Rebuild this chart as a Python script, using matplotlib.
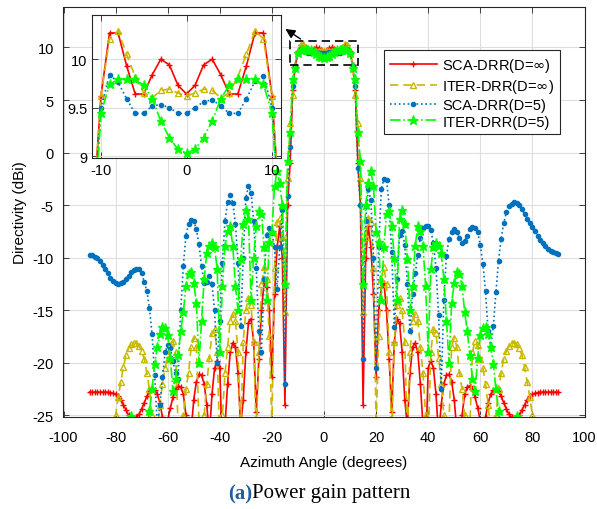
import numpy as np
import matplotlib
matplotlib.use("Agg")
from matplotlib import pyplot as plt
from matplotlib.patches import Rectangle

plt.rcParams["font.family"] = ["Liberation Sans", "DejaVu Sans"]
plt.rcParams["axes.unicode_minus"] = False

# Azimuth grid (1 degree steps)
angles = np.arange(-90, 91)

# SCA-DRR (D = inf)
sca_inf = [
    -22.8, -22.8, -22.8, -22.8, -22.8, -22.8, -22.8, -22.8, -22.85, -22.9,
    -23.0, -23.2, -23.5, -24.0, -24.5, -25.0, -25.3, -25.35, -25.2, -24.9,
    -24.4, -23.8, -23.2, -22.7, -22.5, -22.6, -23.0, -23.8, -25.2, -26.5,
    -25.5, -24.3, -23.3, -22.5, -22.2, -22.3, -23.0, -25.0, -29.0, -26.5,
    -23.5, -21.8, -21.1, -21.2, -22.0, -24.0, -27.0, -23.0, -20.5, -19.8,
    -20.5, -29.0, -26.0, -22.0, -19.0, -18.1, -18.5, -21.0, -26.0, -23.5,
    -19.0, -16.2, -15.8, -18.0, -24.7, -19.6, -15.0, -12.4, -12.8, -15.0,
    -21.4, -13.5, -9.0, -7.0, -10.0, -24.0, -5.0, -1.0, 6.0, 8.3,
    9.62, 10.27, 10.27, 9.93, 9.64, 9.64, 9.84, 10.0, 9.94, 9.73,
    9.64, 9.73, 9.94, 10.0, 9.84, 9.64, 9.64, 9.93, 10.27, 10.27,
    9.62, 8.3, 6.0, -1.0, -5.0, -24.0, -10.0, -7.0, -9.0, -13.5,
    -21.4, -15.0, -12.8, -12.4, -15.0, -19.6, -24.7, -18.0, -15.8, -16.2,
    -19.0, -23.5, -26.0, -21.0, -18.5, -18.1, -19.0, -22.0, -26.0, -29.0,
    -20.5, -19.8, -20.5, -23.0, -27.0, -24.0, -22.0, -21.2, -21.1, -21.8,
    -23.5, -26.5, -29.0, -25.0, -23.0, -22.3, -22.2, -22.5, -23.3, -24.3,
    -25.5, -26.5, -25.2, -23.8, -23.0, -22.6, -22.5, -22.7, -23.2, -23.8,
    -24.4, -24.9, -25.2, -25.35, -25.3, -25.0, -24.5, -24.0, -23.5, -23.2,
    -23.0, -22.9, -22.85, -22.8, -22.8, -22.8, -22.8, -22.8, -22.8, -22.8, -22.8,
]

# ITER-DRR (D = inf)
iter_inf = [
    -39.0, -39.0, -38.5, -38.0, -37.0, -36.0, -35.0, -33.0, -30.0, -27.0,
    -25.0, -23.3, -21.8, -20.4, -19.3, -18.6, -18.2, -18.1, -18.15, -18.4,
    -18.9, -19.6, -21.0, -22.5, -25.0, -28.0, -26.5, -24.0, -22.0, -20.5,
    -19.6, -18.3, -17.9, -19.0, -26.0, -28.0, -25.0, -22.5, -21.0, -18.5,
    -17.6, -18.5, -25.5, -28.0, -25.0, -22.0, -19.5, -17.2, -16.8, -19.0,
    -28.0, -25.0, -21.0, -18.5, -16.0, -15.4, -16.0, -19.0, -27.0, -18.0,
    -15.0, -13.8, -14.5, -18.0, -27.0, -19.0, -12.5, -10.9, -12.0, -17.5,
    -26.0, -11.0, -6.6, -6.2, -8.0, -15.2, -2.4, 2.8, 5.5, 8.3,
    9.62, 10.21, 10.29, 10.05, 9.82, 9.65, 9.6, 9.68, 9.69, 9.65,
    9.62, 9.65, 9.69, 9.68, 9.6, 9.65, 9.82, 10.05, 10.29, 10.21,
    9.62, 8.3, 5.5, 2.8, -2.4, -15.2, -8.0, -6.2, -6.6, -11.0,
    -26.0, -17.5, -12.0, -10.9, -12.5, -19.0, -27.0, -18.0, -14.5, -13.8,
    -15.0, -18.0, -27.0, -19.0, -16.0, -15.4, -16.0, -18.5, -21.0, -25.0,
    -28.0, -19.0, -16.8, -17.2, -19.5, -22.0, -25.0, -28.0, -25.5, -18.5,
    -17.6, -18.5, -21.0, -22.5, -25.0, -28.0, -26.0, -19.0, -17.9, -18.3,
    -19.6, -20.5, -22.0, -24.0, -26.5, -28.0, -25.0, -22.5, -21.0, -19.6,
    -18.9, -18.4, -18.15, -18.1, -18.2, -18.6, -19.3, -20.4, -21.8, -23.3,
    -25.0, -27.0, -30.0, -33.0, -35.0, -36.0, -37.0, -38.0, -38.5, -39.0, -39.0,
]

# SCA-DRR (D = 5)
sca_5 = [
    -9.7, -9.75, -9.9, -10.05, -10.3, -10.7, -11.1, -11.5, -11.9, -12.2,
    -12.4, -12.5, -12.45, -12.3, -12.0, -11.7, -11.4, -11.15, -11.05, -11.1,
    -11.5, -12.3, -13.2, -14.8, -17.3, -21.2, -26.0, -24.0, -21.4, -19.0,
    -18.3, -18.6, -19.8, -21.0, -21.5, -15.0, -10.8, -7.9, -6.8, -6.4,
    -6.5, -7.3, -8.7, -10.8, -12.4, -12.3, -11.7, -12.5, -15.0, -20.0,
    -16.0, -10.5, -6.5, -4.7, -4.0, -4.8, -6.8, -10.5, -16.5, -10.0,
    -4.3, -3.2, -3.8, -6.5, -11.0, -17.0, -19.0, -12.0, -7.8, -7.2,
    -7.6, -9.0, -13.0, -9.0, -5.5, -22.0, -4.1, 0.5, 6.3, 8.2,
    9.5, 9.84, 9.76, 9.59, 9.44, 9.44, 9.52, 9.53, 9.5, 9.44,
    9.44, 9.5, 9.56, 9.58, 9.52, 9.44, 9.44, 9.59, 9.77, 9.83,
    9.5, 8.2, 6.3, -1.5, -5.0, -19.6, -6.5, -3.5, -4.5, -10.0,
    -20.5, -9.0, -3.5, -2.5, -2.6, -5.0, -9.5, -16.6, -12.0, -7.8,
    -7.5, -8.8, -12.5, -17.0, -13.5, -11.5, -9.7, -8.1, -7.2, -7.0,
    -7.0, -7.4, -8.6, -11.0, -15.5, -22.5, -14.0, -9.8, -8.2, -7.6,
    -7.3, -7.6, -8.1, -8.6, -8.4, -7.9, -7.3, -7.1, -7.2, -7.6,
    -8.8, -10.6, -13.2, -17.0, -18.5, -16.5, -13.3, -10.3, -8.2, -6.7,
    -5.7, -5.1, -4.85, -4.75, -4.8, -5.0, -5.4, -5.8, -6.3, -6.7,
    -7.1, -7.5, -7.9, -8.3, -8.6, -8.9, -9.15, -9.35, -9.5, -9.6, -9.65,
]

# ITER-DRR (D = 5)
iter_5 = [
    -40.0, -40.0, -40.0, -40.0, -39.0, -39.0, -38.0, -38.0, -37.0, -36.0,
    -35.0, -34.0, -32.0, -30.0, -27.5, -25.8, -25.1, -25.8, -27.5, -29.5,
    -31.0, -29.0, -26.5, -24.6, -22.5, -20.1, -18.5, -17.3, -16.6, -16.7,
    -17.4, -19.5, -22.7, -21.5, -19.3, -17.0, -15.2, -12.7, -11.6, -11.4,
    -12.4, -14.3, -20.0, -16.0, -12.0, -9.6, -8.9, -8.6, -9.0, -11.1,
    -19.0, -12.7, -8.9, -7.5, -7.0, -8.9, -12.7, -15.0, -10.1, -6.8,
    -5.5, -6.3, -14.0, -10.0, -7.0, -5.6, -5.8, -9.0, -14.0, -8.5,
    -7.6, -3.2, -1.75, -2.9, -5.0, -12.5, -0.8, 2.0, 7.0, 8.0,
    9.44, 9.74, 9.79, 9.79, 9.79, 9.73, 9.59, 9.36, 9.19, 9.07,
    9.03, 9.07, 9.19, 9.36, 9.59, 9.73, 9.79, 9.79, 9.79, 9.74,
    9.44, 8.0, 7.0, 2.0, -0.8, -12.5, -5.0, -2.9, -1.75, -3.2,
    -7.6, -8.5, -14.0, -9.0, -5.8, -5.6, -7.0, -10.0, -14.0, -6.3,
    -5.5, -6.8, -10.1, -15.0, -12.7, -8.9, -7.0, -7.5, -8.9, -12.7,
    -19.0, -11.1, -9.0, -8.6, -8.9, -9.6, -12.0, -16.0, -20.0, -14.3,
    -12.4, -11.4, -11.6, -12.7, -15.2, -17.0, -19.3, -21.5, -22.7, -19.5,
    -17.4, -16.7, -16.6, -17.3, -18.5, -20.1, -22.5, -24.6, -26.5, -29.0,
    -31.0, -29.5, -27.5, -25.8, -25.1, -25.8, -27.5, -30.0, -32.0, -34.0,
    -35.0, -36.0, -37.0, -38.0, -38.0, -39.0, -39.0, -40.0, -40.0, -40.0, -40.0,
]

SERIES = [
    ("SCA-DRR(D=$\\infty$)", sca_inf, dict(color="#FF0000", ls="-", marker="+", ms=4.5, mew=1.0)),
    ("ITER-DRR(D=$\\infty$)", iter_inf, dict(color="#C8B900", ls=(0, (5, 3)), marker="^", ms=5, mfc="none", mew=1.0)),
    ("SCA-DRR(D=5)", sca_5, dict(color="#0072BD", ls=":", marker=".", ms=6)),
    ("ITER-DRR(D=5)", iter_5, dict(color="#00FF00", ls="-.", marker="*", ms=6.5)),
]

GRID = "#DEDEDE"
FRAME = "#262626"


def style_axes(ax, xpad=3.5, ypad=3.5):
    ax.grid(True, color=GRID, lw=0.8)
    ax.set_axisbelow(True)
    ax.tick_params(direction="in", top=True, right=True, length=4, width=0.6,
                   color=FRAME, labelsize=10.5)
    ax.tick_params(axis="x", pad=xpad)
    ax.tick_params(axis="y", pad=ypad)
    for sp in ax.spines.values():
        sp.set_color(FRAME)
        sp.set_linewidth(0.8)


fig = plt.figure(figsize=(5.97, 5.10), dpi=100)

# main axes
ax = fig.add_axes([63.5 / 597, 1 - 418 / 510, 521 / 597, 410 / 510])
for label, vals, kw in SERIES:
    ax.plot(angles, vals, lw=1.2, label=label, **kw)
ax.set_xlim(-100, 100)
ax.set_ylim(-25.16, 13.85)
ax.set_xticks(np.arange(-100, 101, 20))
ax.set_yticks(np.arange(-25, 11, 5))
style_axes(ax, xpad=9.5, ypad=7)
ax.set_xlabel("Azimuth Angle (degrees)", fontsize=11, labelpad=8)
ax.set_ylabel("Directivity (dBi)", fontsize=11)

# zoom box + arrow
ax.add_patch(Rectangle((-13.2, 8.3), 26.2, 2.3, fill=False, ec="k", lw=1.2,
                       ls=(0, (5, 3)), zorder=5))
ax.annotate("", xy=(-15.7, 11.9), xytext=(-8.1, 10.66),
            arrowprops=dict(arrowstyle="-|>", color="k", lw=1.0, mutation_scale=14),
            zorder=6)

leg = ax.legend(loc="upper left", bbox_to_anchor=(384 / 597, 1 - 51 / 510),
                bbox_transform=fig.transFigure, fontsize=10.5, handlelength=3.2,
                labelspacing=0.2, borderpad=0.4, handletextpad=0.4,
                borderaxespad=0, fancybox=False, framealpha=1)
leg.get_frame().set_edgecolor(FRAME)
leg.get_frame().set_linewidth(0.8)

# inset
axi = fig.add_axes([92 / 597, 1 - 159 / 510, 189 / 597, 143 / 510])
for label, vals, kw in SERIES:
    axi.plot(angles, vals, lw=1.2, **kw)
axi.set_xlim(-11.05, 11.05)
axi.set_ylim(8.98, 10.455)
axi.set_xticks([-10, 0, 10])
axi.set_yticks([9, 9.5, 10])
axi.set_yticklabels(["9", "9.5", "10"])
style_axes(axi)

# caption
fig.text(252 / 597, 1 - 494 / 510, "(a)", ha="right", va="center", fontsize=15,
         fontweight="bold", color="#1F5F99", family="Liberation Serif")
fig.text(252 / 597, 1 - 494 / 510, "Power gain pattern", ha="left", va="center",
         fontsize=15, family="Liberation Serif")

fig.savefig("out.png", dpi=100)
